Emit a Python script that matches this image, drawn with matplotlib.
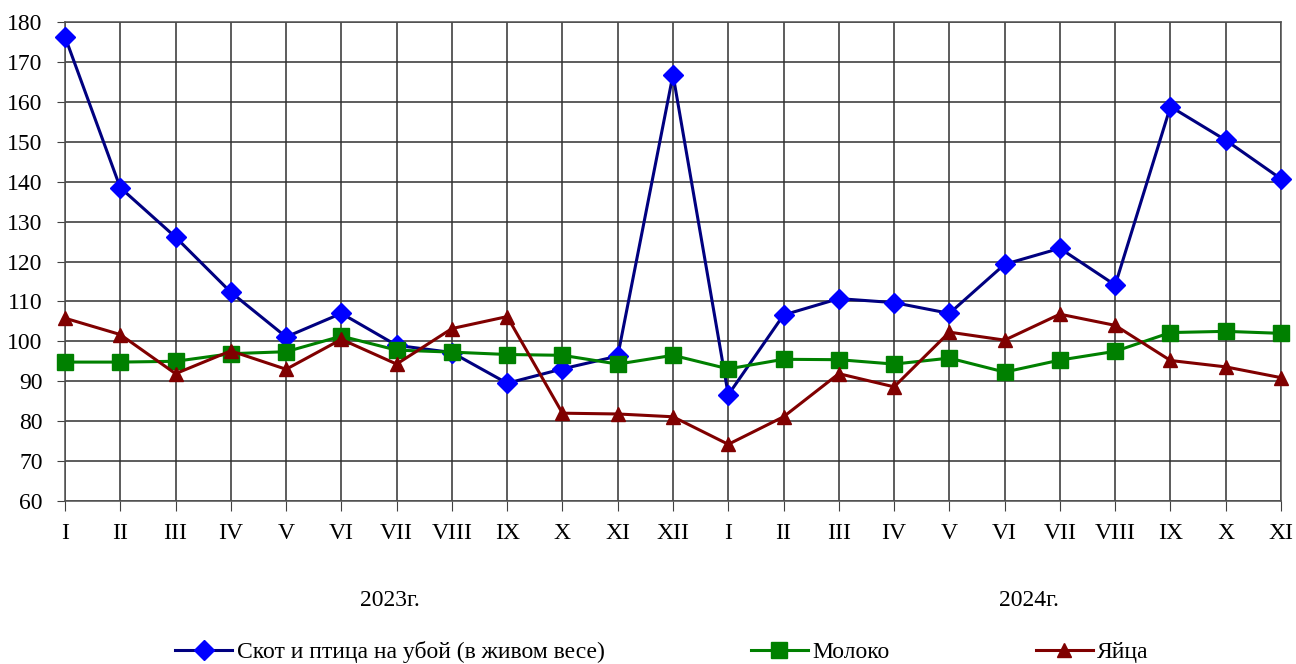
import matplotlib
matplotlib.use("Agg")
import matplotlib.pyplot as plt

months = ["I", "II", "III", "IV", "V", "VI", "VII", "VIII", "IX", "X", "XI", "XII",
          "I", "II", "III", "IV", "V", "VI", "VII", "VIII", "IX", "X", "XI"]
years = ["2023г.", "2024г."]

skot = [176.3, 138.5, 126.1, 112.3, 101.1, 107.0, 99.0, 97.2, 89.5, 93.1, 96.3, 166.8,
        86.6, 106.6, 110.7, 109.7, 107.0, 119.3, 123.3, 114.1, 158.8, 150.4, 140.7]
moloko = [94.8, 94.8, 95.0, 96.9, 97.4, 101.3, 97.8, 97.3, 96.7, 96.5, 94.3, 96.5,
          93.1, 95.5, 95.4, 94.3, 95.8, 92.3, 95.3, 97.5, 102.2, 102.5, 102.0]
yaitsa = [105.8, 101.7, 91.9, 97.6, 93.0, 100.5, 94.3, 103.2, 106.2, 82.0, 81.8, 81.1,
          74.2, 81.1, 91.9, 88.6, 102.3, 100.3, 106.8, 104.0, 95.2, 93.6, 90.9]

labels = ["Скот и птица на убой (в живом весе)", "Молоко", "Яйца"]

plt.rcParams['font.family'] = ['Liberation Serif', 'DejaVu Serif']
FS = 17

fig = plt.figure(figsize=(12.96, 6.64), dpi=100)
ax = fig.add_axes([65/1296, 1-501/664, 1216/1296, 479/664])

x = list(range(len(months)))
ax.plot(x, skot, color="#000080", lw=2.2, marker="D", ms=10, mfc="#0000FF", mec="#0000FF",
        label=labels[0], zorder=3, clip_on=False)
ax.plot(x, moloko, color="#008000", lw=2.2, marker="s", ms=11, mfc="#008000", mec="#008000",
        label=labels[1], zorder=3, clip_on=False)
ax.plot(x, yaitsa, color="#800000", lw=2.2, marker="^", ms=10, mfc="#800000", mec="#800000",
        label=labels[2], zorder=3, clip_on=False)

ax.set_xlim(0, len(months) - 1)
ax.set_ylim(60, 180)
ax.set_yticks(range(60, 181, 10))
ax.set_xticks(x)
ax.set_xticklabels(months, fontsize=FS)
ax.tick_params(axis='y', labelsize=FS, length=6, direction='out', color='#404040', pad=10)
ax.tick_params(axis='x', length=7, direction='out', color='#404040', pad=9)
ax.grid(True, color='#303030', lw=1.1)
for s in ax.spines.values():
    s.set_color('#505050')
    s.set_linewidth(1.1)

fig.text(390/1296, 1-600/664, years[0], fontsize=FS, ha='center', va='center')
fig.text(1029/1296, 1-600/664, years[1], fontsize=FS, ha='center', va='center')

fig.legend(loc='center', bbox_to_anchor=(662/1296, 1-652/664), ncol=3, frameon=False,
           fontsize=FS, handlelength=2.4, columnspacing=6.2, handletextpad=0.2,
           borderaxespad=0)

fig.savefig("out.png", dpi=100)
